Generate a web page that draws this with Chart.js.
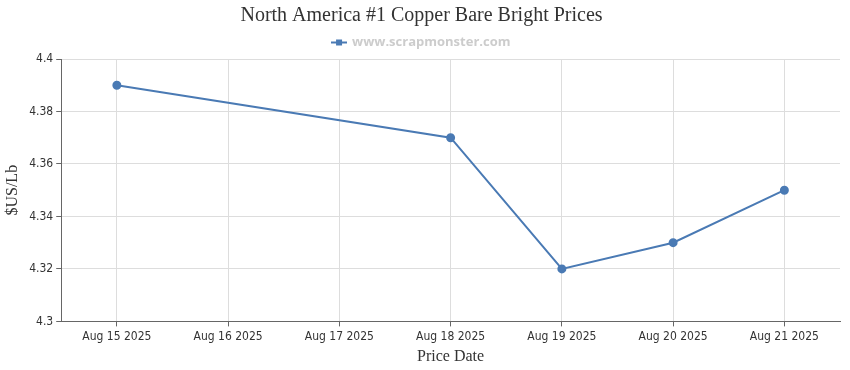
<!DOCTYPE html>
<html>
<head>
<meta charset="utf-8">
<title>North America #1 Copper Bare Bright Prices</title>
<script src="https://cdn.jsdelivr.net/npm/chart.js@4/dist/chart.umd.min.js"></script>
<style>
    body { margin:0; background:#fff; }
    #wrap { width:850px; height:370px; }
</style>
</head>
<body>
<div id="wrap"><canvas id="canvasGraph"></canvas></div>
<script>
// Les donnees du graphique
var datesPrix = ['Aug 15 2025','Aug 16 2025','Aug 17 2025','Aug 18 2025','Aug 19 2025','Aug 20 2025','Aug 21 2025'];
var prixCuivre = [4.39, null, null, 4.37, 4.32, 4.33, 4.35];
var ticksY = [4.3, 4.32, 4.34, 4.36, 4.38, 4.4];

var couleurLigne = '#4a7ab4';

// Petit symbole de legende : trait + carre
function SymboleLegende()
{
    var c = document.createElement('canvas');
    c.width = 16;
    c.height = 8;
    var ctx = c.getContext('2d');
    ctx.fillStyle = couleurLigne;
    ctx.fillRect(0, 3, 16, 2);
    ctx.fillRect(5, 1, 6, 6);
    return c;
}

function DessinerGraph()
{
    var chartdata = {
        labels: datesPrix,
        datasets: [
            {
                label: 'www.scrapmonster.com',
                data: prixCuivre,
                borderColor: couleurLigne,
                backgroundColor: couleurLigne,
                borderWidth: 2,
                pointRadius: 3.5,
                pointHoverRadius: 5,
                tension: 0,
                spanGaps: true
            }
        ]
    };

    new Chart(document.getElementById('canvasGraph'), {
        type: 'line',
        data: chartdata,
        options: {
            responsive: true,
            maintainAspectRatio: false,
            animation: false,
            layout: { padding: { left: 3, right: 10, top: 4, bottom: 4 } },
            plugins: {
                title: {
                    display: true,
                    text: 'North America #1 Copper Bare Bright Prices',
                    color: '#333',
                    font: { family: '"Liberation Serif", serif', size: 20, weight: 'normal' },
                    padding: { top: 0, bottom: 2 }
                },
                legend: {
                    display: true,
                    labels: {
                        usePointStyle: true,
                        pointStyle: SymboleLegende(),
                        color: '#ccc',
                        font: { family: '"Open Sans", sans-serif', size: 13, weight: 'bold' },
                        padding: 6
                    }
                },
                tooltip: { enabled: false }
            },
            scales: {
                x: {
                    offset: true,
                    grid: { offset: false, color: '#ddd', tickColor: '#666', tickLength: 5 },
                    border: { color: '#666' },
                    ticks: {
                        color: '#333',
                        font: { family: '"DejaVu Sans Condensed", sans-serif', size: 12 },
                        maxRotation: 0,
                        autoSkip: false,
                        padding: 3
                    },
                    title: {
                        display: true,
                        text: 'Price Date',
                        color: '#333',
                        font: { family: '"Liberation Serif", serif', size: 16 },
                        padding: { top: 0, bottom: 0 }
                    }
                },
                y: {
                    min: ticksY[0],
                    max: ticksY[ticksY.length - 1],
                    afterBuildTicks: function(axis)
                    {
                        axis.ticks = ticksY.map(function(v) { return { value: v }; });
                    },
                    grid: { color: '#ddd', tickColor: '#666', tickLength: 5 },
                    border: { color: '#666' },
                    ticks: {
                        color: '#333',
                        font: { family: '"DejaVu Sans Condensed", sans-serif', size: 12 },
                        padding: 3,
                        callback: function(v) { return String(parseFloat(Number(v).toFixed(2))); }
                    },
                    title: {
                        display: true,
                        text: '$US/Lb',
                        color: '#333',
                        font: { family: '"Liberation Serif", serif', size: 16 },
                        padding: { top: 0, bottom: 4 }
                    }
                }
            }
        }
    });
}

DessinerGraph();
</script>
</body>
</html>
